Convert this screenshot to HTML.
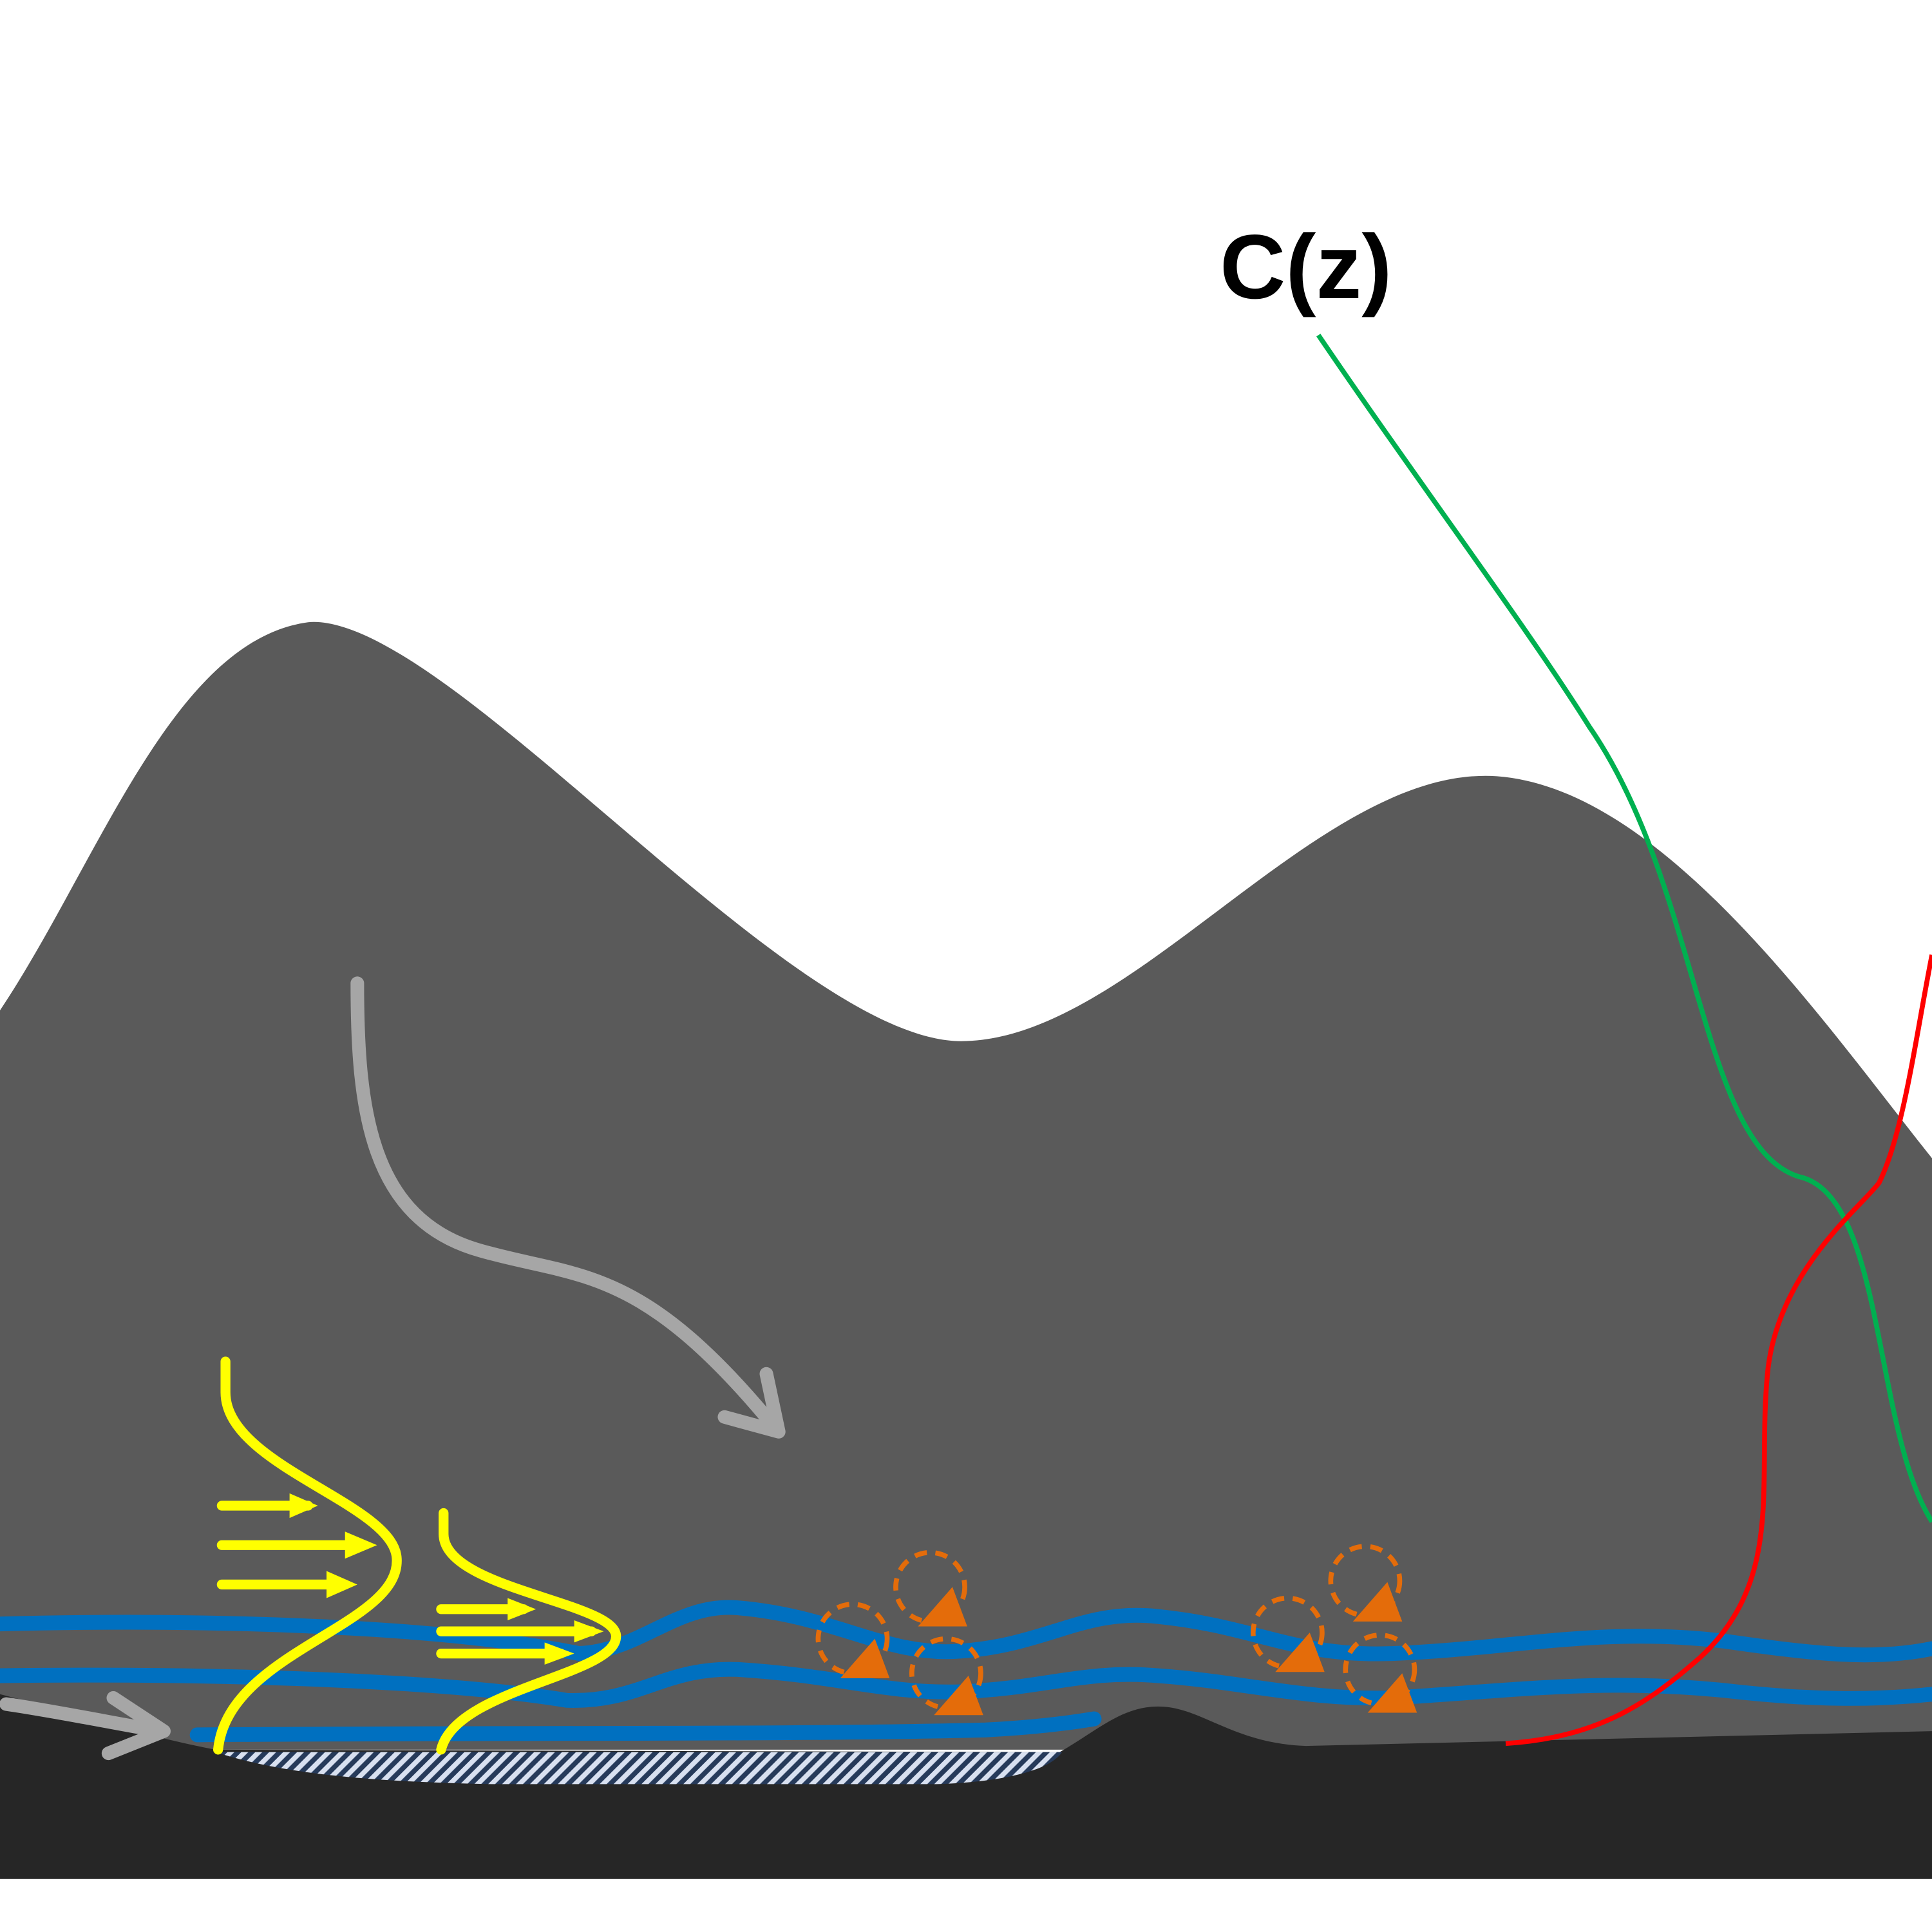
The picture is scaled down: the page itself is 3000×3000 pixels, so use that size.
<!DOCTYPE html>
<html><head><meta charset="utf-8"><style>
html,body{margin:0;padding:0;background:#fff;}
svg{display:block;}
</style></head><body>
<svg width="3000" height="3000" viewBox="0 0 1568 1568" xmlns="http://www.w3.org/2000/svg">
<defs>
<pattern id="hatch" width="8" height="8" patternUnits="userSpaceOnUse" patternTransform="rotate(45)">
<rect width="8" height="8" fill="#263a5a"/>
<rect width="4" height="8" fill="#d8e0f0"/>
</pattern>
</defs>
<rect width="1568" height="1568" fill="#fff"/>
<!-- mountain -->
<path d="M0,820 C80,700 140,520 250,505 C360,495 640,845 780,845 C920,845 1070,620 1215,630 C1350,640 1480,830 1568,940 L1568,1420 L0,1420 Z" fill="#5a5a5a"/>
<!-- bottom dark band -->
<path d="M0,1375 C60,1390 120,1410 175,1420 L860,1422 C890,1405 910,1385 940,1385 C975,1385 1000,1415 1060,1417 L1568,1405 L1568,1525 L0,1525 Z" fill="#262626"/>
<!-- hatch -->
<path d="M175,1422 L862,1422 C850,1440 800,1447 760,1448 L400,1448 C300,1446 230,1440 175,1422 Z" fill="url(#hatch)"/>
<!-- blue lines -->
<g fill="none" stroke="#0070c0" stroke-width="12" stroke-linecap="round">
<path d="M0,1318 C150,1314 350,1318 470,1342 C520,1340 550,1300 600,1305 C680,1312 720,1345 780,1340 C850,1335 880,1305 940,1312 C1020,1320 1050,1345 1130,1342 C1230,1338 1300,1320 1400,1332 C1470,1342 1520,1348 1568,1338"/>
<path d="M0,1360 C150,1358 350,1362 460,1380 C520,1382 540,1352 600,1355 C680,1360 720,1375 780,1373 C850,1370 880,1355 940,1360 C1010,1365 1060,1380 1130,1378 C1230,1372 1300,1362 1400,1372 C1470,1380 1520,1380 1568,1375"/>
<path d="M160,1408 C400,1406 650,1408 800,1404 C840,1402 870,1398 888,1395"/>
</g>
<!-- gray arrows -->
<g fill="none" stroke="#a6a6a6" stroke-width="11" stroke-linecap="round" stroke-linejoin="round">
<path d="M290,798 C290,900 300,990 390,1015 C470,1038 520,1025 630,1160"/>
<path d="M588,1150 L632,1162 L622,1115"/>
<path d="M5,1383 C40,1388 90,1398 130,1405"/>
<path d="M92,1378 L133,1405 L88,1423"/>
</g>
<!-- yellow profiles -->
<g fill="none" stroke="#ffff00" stroke-width="8" stroke-linecap="round">
<path d="M183,1105 L183,1130 C183,1190 320,1220 322,1265 C325,1320 185,1340 177,1420"/>
<path d="M360,1228 L360,1245 C360,1290 500,1300 500,1328 C500,1360 370,1370 358,1420"/>
<path d="M180,1222 L250,1222 M180,1254 L295,1254 M180,1286 L280,1286"/>
<path d="M358,1306 L425,1306 M358,1324 L480,1324 M358,1342 L455,1342"/>
</g>
<g fill="#ffff00">
<polygon points="235,1212 258,1222 235,1232"/>
<polygon points="280,1243 306,1254 280,1265"/>
<polygon points="265,1275 290,1286 265,1297"/>
<polygon points="412,1297 435,1306 412,1315"/>
<polygon points="466,1315 490,1324 466,1333"/>
<polygon points="442,1333 466,1342 442,1351"/>
</g>
<!-- orange -->
<g fill="none" stroke="#e46c0a" stroke-width="4" stroke-dasharray="10,7">
<circle cx="692" cy="1330" r="28"/>
<circle cx="755" cy="1288" r="28"/>
<circle cx="768" cy="1358" r="28"/>
<circle cx="1045" cy="1325" r="28"/>
<circle cx="1108" cy="1283" r="28"/>
<circle cx="1120" cy="1355" r="28"/>
</g>
<g fill="#e46c0a">
<polygon points="682,1362 722,1362 710,1330"/>
<polygon points="745,1320 785,1320 773,1288"/>
<polygon points="758,1392 798,1392 786,1360"/>
<polygon points="1035,1357 1075,1357 1063,1325"/>
<polygon points="1098,1316 1138,1316 1126,1284"/>
<polygon points="1110,1390 1150,1390 1138,1358"/>
</g>
<!-- green -->
<path d="M1070,272 C1150,390 1240,510 1290,590 C1380,720 1380,930 1460,955 C1530,970 1520,1160 1568,1235" fill="none" stroke="#00b050" stroke-width="4"/>
<!-- red -->
<path d="M1222,1415 C1300,1410 1340,1380 1380,1345 C1450,1280 1425,1200 1435,1110 C1445,1030 1510,980 1525,960 C1545,920 1555,840 1568,775" fill="none" stroke="#ff0000" stroke-width="4"/>
<text x="990" y="242" font-family="Liberation Sans, sans-serif" font-weight="bold" font-size="74" fill="#000">C(z)</text>
</svg>
</body></html>
